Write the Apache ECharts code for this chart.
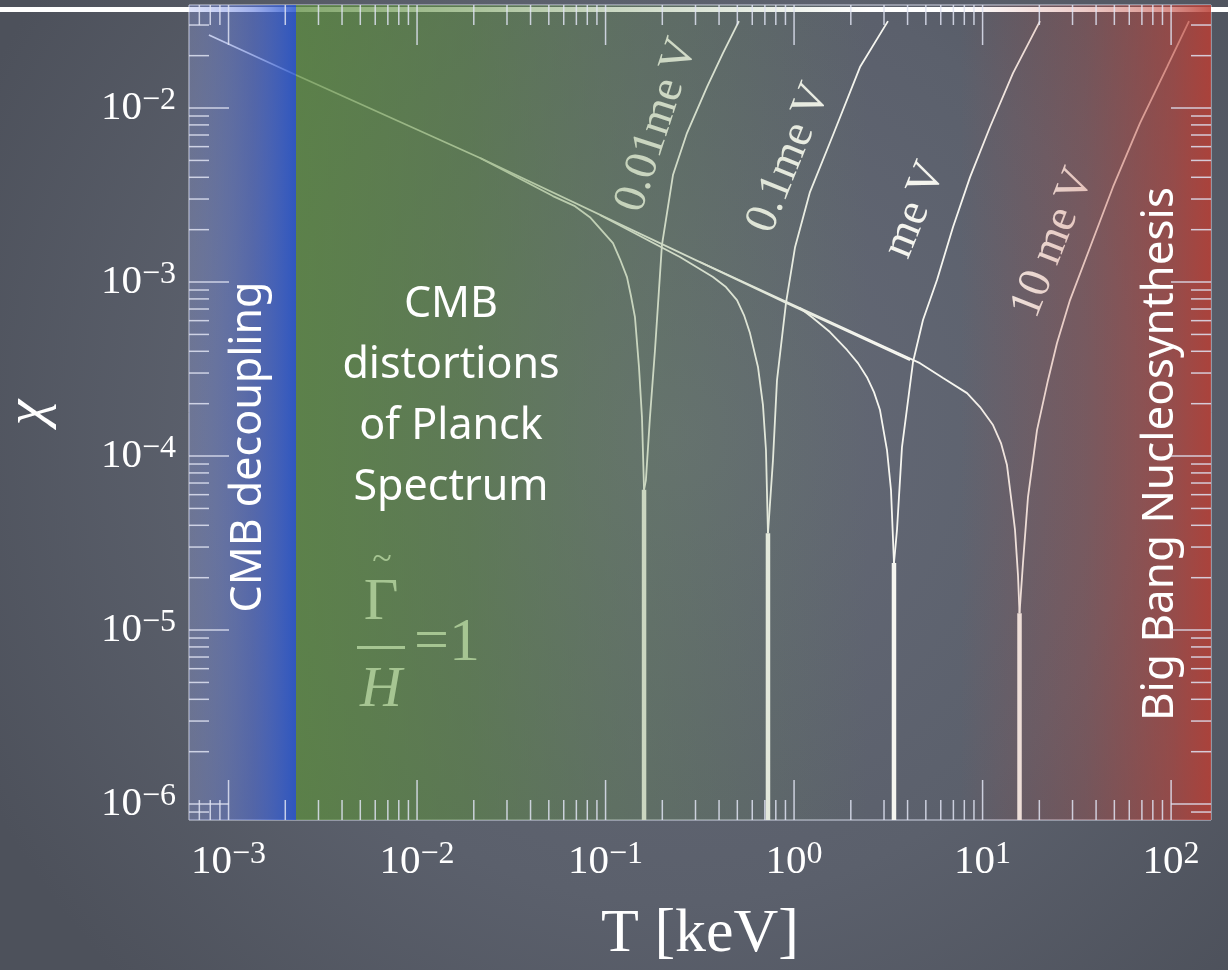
<!DOCTYPE html>
<html><head><meta charset="utf-8">
<script src="https://cdn.jsdelivr.net/npm/echarts@6/dist/echarts.min.js"></script>
<style>html,body{margin:0;padding:0;background:#50545f;}#c{width:1228px;height:970px;}</style>
</head><body><div id="c"></div>
<script>
// ---- axis ranges and ticks ----
const xRange = [6.17e-4, 162.8];
const yRange = [8.1e-7, 0.0391];
const xMajor = [1e-3, 1e-2, 1e-1, 1, 10, 100];
const xMinor = [7e-4, 8e-4, 9e-4,
  2e-3, 3e-3, 4e-3, 5e-3, 6e-3, 7e-3, 8e-3, 9e-3,
  0.02, 0.03, 0.04, 0.05, 0.06, 0.07, 0.08, 0.09,
  0.2, 0.3, 0.4, 0.5, 0.6, 0.7, 0.8, 0.9,
  2, 3, 4, 5, 6, 7, 8, 9,
  20, 30, 40, 50, 60, 70, 80, 90];
const yMajor = [1e-6, 1e-5, 1e-4, 1e-3, 1e-2];
const yMinor = [9e-7,
  2e-6, 3e-6, 4e-6, 5e-6, 6e-6, 7e-6, 8e-6, 9e-6,
  2e-5, 3e-5, 4e-5, 5e-5, 6e-5, 7e-5, 8e-5, 9e-5,
  2e-4, 3e-4, 4e-4, 5e-4, 6e-4, 7e-4, 8e-4, 9e-4,
  2e-3, 3e-3, 4e-3, 5e-3, 6e-3, 7e-3, 8e-3, 9e-3,
  0.02, 0.03];

// ---- shaded regions (T in keV) ----
const cmbDecoupling = [6.17e-4, 2.28e-3];
const cmbDistortions = [2.28e-3, 2.5];
const bbn = [7.6, 162.8];

// ---- curves [T (keV), chi] ----
const gammaLine = [[7.87e-4, 2.627e-2], [2.28e-3, 1.548e-2], [2.16e-2, 5.16e-3], [0.913, 7.57e-4], [4.12, 3.56e-4]];

const aLeft = [[0.0216, 5.16e-3], [0.0526, 3.12e-3], [0.0688, 2.73e-3], [0.0826, 2.36e-3], [0.1095, 1.675e-3], [0.1192, 1.356e-3], [0.1299, 1.068e-3], [0.1364, 8.31e-4], [0.1432, 6.29e-4], [0.1504, 3.25e-4], [0.1560, 1.675e-4], [0.1600, 6.4e-5]];
const aRight = [[0.1600, 6.4e-5], [0.1637, 7.28e-5], [0.1720, 1.675e-4], [0.1829, 4.07e-4], [0.1991, 1.632e-3], [0.2278, 4.12e-3], [0.2703, 7.18e-3], [0.3450, 1.32e-2], [0.4195, 2.07e-2], [0.5101, 3.16e-2]];
const aStem = [[0.1600, 6.4e-5], [0.1600, 8.1e-7]];

const bLeft = [[0.0934, 2.43e-3], [0.2481, 1.392e-3], [0.3714, 1.068e-3], [0.4352, 9.36e-4], [0.4979, 7.88e-4], [0.5423, 6.46e-4], [0.5834, 5.09e-4], [0.6434, 3.25e-4], [0.6839, 1.963e-4], [0.7094, 1.083e-4], [0.7270, 3.6e-5]];
const bRight = [[0.7270, 3.6e-5], [0.7728, 9.48e-5], [0.8117, 2.73e-4], [0.9058, 7.57e-4], [1.011, 1.579e-3], [1.214, 3.29e-3], [1.609, 7.0e-3], [2.237, 1.72e-2], [3.149, 3.16e-2]];
const bStem = [[0.7270, 3.6e-5], [0.7270, 8.1e-7]];

const cLeft = [[0.3168, 1.303e-3], [1.075, 7.09e-4], [1.260, 6.21e-4], [1.550, 5.16e-4], [1.909, 4.07e-4], [2.183, 3.42e-4], [2.436, 2.84e-4], [2.654, 2.33e-4], [2.856, 1.838e-4], [3.111, 1.083e-4], [3.267, 6.38e-5], [3.388, 2.43e-5]];
const cRight = [[3.388, 2.43e-5], [3.515, 3.76e-5], [3.736, 1.126e-4], [4.274, 3.47e-4], [4.829, 6.05e-4], [5.73, 1.027e-3], [6.97, 2.07e-3], [8.58, 4.01e-3], [10.95, 7.78e-3], [14.50, 1.589e-2], [20.16, 3.16e-2]];
const cStem = [[3.388, 2.43e-5], [3.388, 8.1e-7]];

const dLeft = [[1.075, 7.09e-4], [4.655, 3.42e-4], [6.17, 2.81e-4], [8.27, 2.30e-4], [9.69, 1.912e-4], [11.36, 1.507e-4], [12.52, 1.188e-4], [13.47, 8.88e-5], [14.50, 4.70e-5], [14.86, 3.76e-5], [15.41, 2.07e-5], [15.70, 1.25e-5]];
const dRight = [[15.70, 1.25e-5], [16.38, 2.43e-5], [17.41, 5.81e-5], [19.44, 1.410e-4], [22.23, 2.73e-4], [24.82, 4.46e-4], [29.09, 7.88e-4], [37.14, 1.579e-3], [49.19, 3.52e-3], [68.39, 8.20e-3], [95.1, 1.72e-2], [124.5, 3.16e-2]];
const dStem = [[15.70, 1.25e-5], [15.70, 8.1e-7]];

const massLabels = ['0.01me\u2009V', '0.1me\u2009V', 'me\u2009V', '10 me\u2009V'];

// ---- styling ----
const serif = '"Liberation Serif", "DejaVu Serif", serif';
const sans = '"Noto Sans", "DejaVu Sans", sans-serif';
const tickColor = '#dfe3f2';
const lineColor = 'rgba(228,232,248,0.85)';
const curveColor = '#f6f6f0';
const gammaColor = '#a6c592';

const rich = {
  b: {fontFamily: serif, fontSize: 41, color: '#fff', lineHeight: 46},
  s: {fontFamily: serif, fontSize: 32, color: '#fff', lineHeight: 30, verticalAlign: 'top'}
};
function powLabel(v) {
  const e = Math.round(Math.log10(v));
  return '{b|10}{s|' + (e < 0 ? '\u2212' + (-e) : e) + '}';
}

function curve(data, w) {
  return {type: 'line', data: data, symbol: 'none', showSymbol: false, smooth: false,
    lineStyle: {color: curveColor, width: w || 1.8}, z: 2, silent: true, clip: true, animation: false};
}

// all inward ticks (4 sides) drawn by one custom item, positioned through the axis scales
function renderTicks(params, api) {
  if (params.dataIndex !== 0) return;
  const cs = params.coordSys;
  const left = cs.x, right = cs.x + cs.width, top = cs.y, bottom = cs.y + cs.height;
  const kids = [];
  function bar(x, y, w, h) {
    kids.push({type: 'rect', shape: {x: x, y: y, width: w, height: h},
      style: {fill: tickColor, opacity: 0.85}});
  }
  [[xMajor, 40], [xMinor, 20]].forEach(function (pair) {
    pair[0].forEach(function (v) {
      const x = api.coord([v, yRange[0]])[0];
      bar(x - 0.75, bottom - pair[1], 1.5, pair[1]);
      bar(x - 0.75, top, 1.5, pair[1]);
    });
  });
  [[yMajor, 40], [yMinor, 20]].forEach(function (pair) {
    pair[0].forEach(function (v) {
      const y = api.coord([xRange[0], v])[1];
      bar(left, y - 0.75, pair[1], 1.5);
      bar(right - pair[1], y - 0.75, pair[1], 1.5);
    });
  });
  return {type: 'group', children: kids};
}

function grad(stops) {
  return {type: 'linear', x: 0, y: 0, x2: 1, y2: 0, colorStops: stops};
}

const chart = echarts.init(document.getElementById('c'), null, {renderer: 'canvas'});
chart.setOption({
  animation: false,
  backgroundColor: {type: 'radial', x: 0.55, y: 0.45, r: 0.8,
    colorStops: [{offset: 0, color: '#656a77'}, {offset: 0.6, color: '#5b606c'}, {offset: 1, color: '#4d515b'}]},
  grid: {left: 189, right: 17, top: 5, bottom: 150, containLabel: false, outerBoundsMode: 'none',
    show: true, borderColor: lineColor, borderWidth: 1},
  xAxis: {
    type: 'log', min: xRange[0], max: xRange[1],
    axisLine: {show: false}, axisTick: {show: false}, splitLine: {show: false}, minorTick: {show: false},
    axisLabel: {show: true, customValues: xMajor, margin: 19, formatter: powLabel, rich: rich},
    name: 'T [keV]', nameLocation: 'middle', nameGap: 84,
    nameTextStyle: {fontFamily: serif, fontSize: 62, color: '#fff'}
  },
  yAxis: {
    type: 'log', min: yRange[0], max: yRange[1],
    axisLine: {show: false}, axisTick: {show: false}, splitLine: {show: false}, minorTick: {show: false},
    axisLabel: {show: true, customValues: yMajor, margin: 13, formatter: powLabel, rich: rich},
    name: '\u03c7', nameLocation: 'middle', nameGap: 131,
    nameTextStyle: {fontFamily: serif, fontSize: 58, fontStyle: 'italic', color: '#fff'}
  },
  series: [
    curve(gammaLine),
    curve(aLeft), curve(aRight), curve(aStem, 4.5),
    curve(bLeft), curve(bRight), curve(bStem, 4.5),
    curve(cLeft), curve(cRight), curve(cStem, 4.5),
    curve(dLeft), curve(dRight), curve(dStem, 4.5),
    {type: 'line', data: [], silent: true,
      markArea: {silent: true, z: 5, label: {show: false},
        data: [
          [{xAxis: cmbDecoupling[0], itemStyle: {color: grad([
              {offset: 0, color: 'rgba(150,165,235,0.32)'},
              {offset: 0.6, color: 'rgba(80,110,220,0.55)'},
              {offset: 1, color: 'rgba(40,85,205,0.86)'}])}}, {xAxis: cmbDecoupling[1]}],
          [{xAxis: cmbDistortions[0], itemStyle: {color: grad([
              {offset: 0, color: 'rgba(92,140,62,0.74)'},
              {offset: 0.3, color: 'rgba(92,140,62,0.52)'},
              {offset: 0.6, color: 'rgba(100,140,80,0.3)'},
              {offset: 1, color: 'rgba(100,140,80,0)'}])}}, {xAxis: cmbDistortions[1]}],
          [{xAxis: bbn[0], itemStyle: {color: grad([
              {offset: 0, color: 'rgba(190,70,60,0)'},
              {offset: 0.5, color: 'rgba(190,70,60,0.28)'},
              {offset: 0.85, color: 'rgba(190,65,55,0.6)'},
              {offset: 1, color: 'rgba(185,62,52,0.85)'}])}}, {xAxis: bbn[1]}]
        ]}},
    {type: 'custom', coordinateSystem: 'cartesian2d', silent: true, animation: false, clip: false,
      z: 6, zlevel: 1, data: [[xRange[0], yRange[0]]], renderItem: renderTicks}
  ],
  graphic: [
    {type: 'rect', shape: {x: 0, y: 7, width: 1228, height: 5}, style: {fill: '#ffffff'}, z: 0, silent: true},
    // curve labels (under the colour bands)
    {type: 'text', x: 657, y: 125, rotation: 72 * Math.PI / 180, z: 3, silent: true,
      style: {text: massLabels[0], font: '46px ' + serif, fill: '#f4f4ee', align: 'center', verticalAlign: 'middle'}},
    {type: 'text', x: 789, y: 158, rotation: 68 * Math.PI / 180, z: 3, silent: true,
      style: {text: massLabels[1], font: '46px ' + serif, fill: '#f4f4ee', align: 'center', verticalAlign: 'middle'}},
    {type: 'text', x: 915, y: 210, rotation: 68 * Math.PI / 180, z: 3, silent: true,
      style: {text: massLabels[2], font: '46px ' + serif, fill: '#f4f4ee', align: 'center', verticalAlign: 'middle'}},
    {type: 'text', x: 1053, y: 243, rotation: 68.5 * Math.PI / 180, z: 3, silent: true,
      style: {text: massLabels[3], font: '46px ' + serif, fill: '#f4f4ee', align: 'center', verticalAlign: 'middle'}},
    // region texts (above bands)
    {type: 'text', x: 249, y: 447, rotation: Math.PI / 2, z: 10, silent: true,
      style: {text: 'CMB decoupling', font: '43px ' + sans, fill: '#ffffff', align: 'center', verticalAlign: 'middle'}},
    {type: 'text', x: 451, y: 396, z: 10, silent: true,
      style: {text: 'CMB\ndistortions\nof Planck\nSpectrum', font: '43px ' + sans, lineHeight: 61, fill: '#ffffff', align: 'center', verticalAlign: 'middle'}},
    {type: 'text', x: 1160, y: 454, rotation: Math.PI / 2, z: 10, silent: true,
      style: {text: 'Big Bang Nucleosynthesis', font: '44px ' + sans, fill: '#ffffff', align: 'center', verticalAlign: 'middle'}},
    // Gamma~/H = 1
    {type: 'text', x: 382, y: 561, z: 10, silent: true,
      style: {text: '~', font: '36px ' + serif, fill: gammaColor, align: 'center', verticalAlign: 'middle'}},
    {type: 'text', x: 381, y: 603, z: 10, silent: true,
      style: {text: '\u0393', font: '60px ' + serif, fill: gammaColor, align: 'center', verticalAlign: 'middle'}},
    {type: 'rect', shape: {x: 357, y: 646, width: 48, height: 3}, style: {fill: gammaColor}, z: 10, silent: true},
    {type: 'text', x: 381, y: 691, z: 10, silent: true,
      style: {text: 'H', font: 'italic 58px ' + serif, fill: gammaColor, align: 'center', verticalAlign: 'middle'}},
    {type: 'text', x: 414, y: 644, z: 10, silent: true,
      style: {text: '=1', font: '62px ' + serif, fill: gammaColor, align: 'left', verticalAlign: 'middle'}}
  ]
});
</script>
</body></html>
